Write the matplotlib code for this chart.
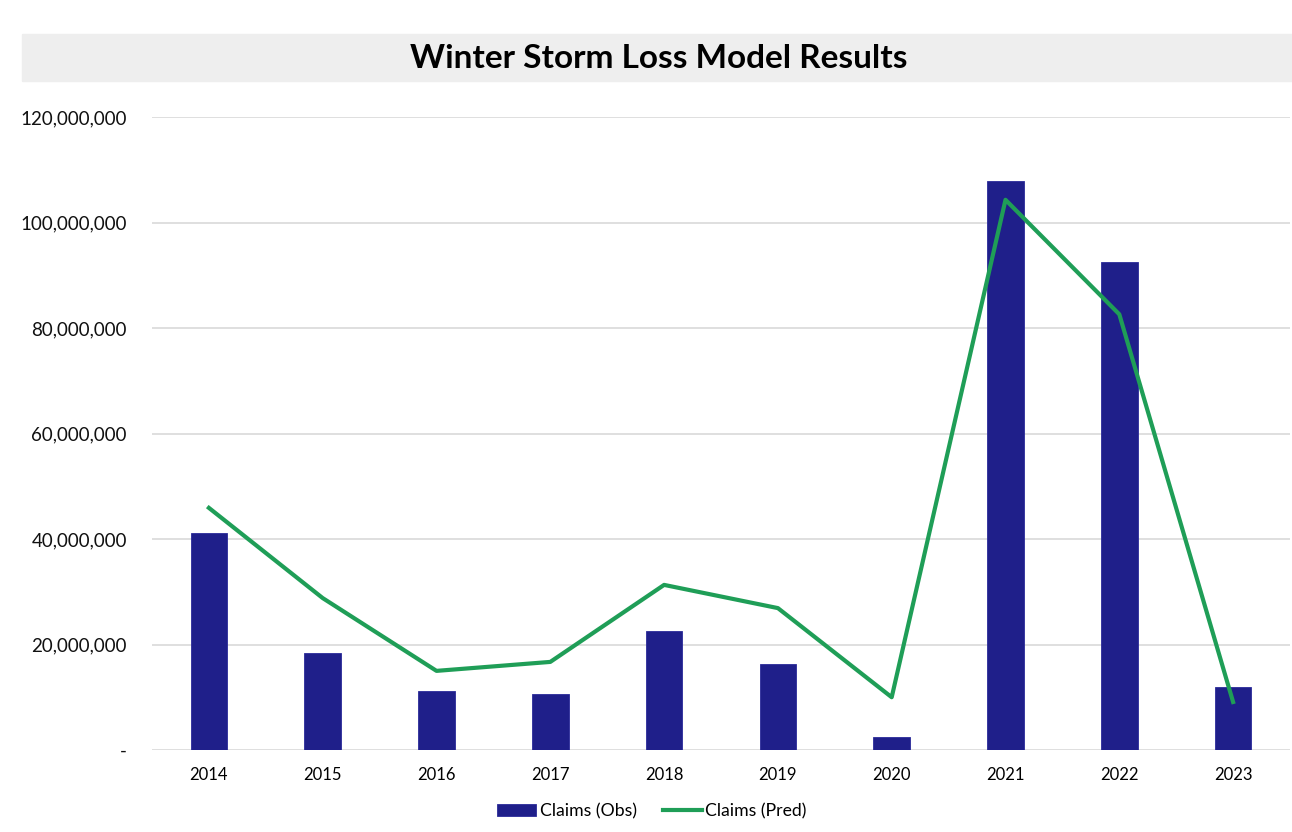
# Winter storm loss model: observed vs predicted claims per year

import matplotlib.pyplot as plt
from matplotlib.ticker import FuncFormatter

years = ['2014', '2015', '2016', '2017', '2018', '2019', '2020', '2021', '2022', '2023']
claims_obs = [41.2e6, 18.4e6, 11.1e6, 10.6e6, 22.6e6, 16.3e6, 2.5e6, 107.8e6, 92.5e6, 11.9e6]
claims_pred = [45.9e6, 28.8e6, 15.0e6, 16.7e6, 31.3e6, 26.9e6, 10.0e6, 104.3e6, 82.6e6, 9.1e6]

BAR_COLOR = '#1f1f8a'
LINE_COLOR = '#1f9e57'

plt.rcParams['font.family'] = ['Lato', 'DejaVu Sans']

fig = plt.figure(figsize=(12.92, 8.32), dpi=100)
ax = fig.add_axes([152 / 1292, 1 - 750 / 832, (1290 - 152) / 1292, (750 - 117) / 832])

x = list(range(len(years)))
bars = ax.bar(x, claims_obs, width=0.32, color=BAR_COLOR, edgecolor='#2a2a9a', linewidth=0.6,
              label='Claims (Obs)', zorder=2)
line, = ax.plot(x, claims_pred, color=LINE_COLOR, linewidth=3, label='Claims (Pred)', zorder=3)

ax.set_xlim(-0.5, len(years) - 0.5)
ax.set_ylim(0, 120e6)
ax.set_yticks([i * 20e6 for i in range(7)])
ax.yaxis.set_major_formatter(FuncFormatter(lambda v, p: '-' if v == 0 else f'{v:,.0f}'))
ax.set_xticks(x)
ax.set_xticklabels(years)

ax.grid(axis='y', color='#d9d9d9', linewidth=1.2, zorder=0)
for s in ax.spines.values():
    s.set_visible(False)
ax.tick_params(axis='both', length=0)
ax.tick_params(axis='y', labelsize=13.5, pad=18)
ax.tick_params(axis='x', labelsize=12, pad=12)
for lbl in ax.get_yticklabels():
    lbl.set_color('#111111')

# grey title band
band = plt.Rectangle((22 / 1292, 1 - 81 / 832), (1292 - 22) / 1292, 47 / 832,
                     transform=fig.transFigure, color='#eeeeee', zorder=0)
fig.patches.append(band)
fig.text(659 / 1292, 1 - 59 / 832, 'Winter Storm Loss Model Results', ha='center', va='center',
         fontsize=24, fontweight='bold', color='#000000')

fig.legend([bars, line], ['Claims (Obs)', 'Claims (Pred)'], loc='center',
           bbox_to_anchor=(652 / 1292, 1 - 811 / 832), ncol=2, frameon=False,
           fontsize=12.7, handlelength=2.2, handletextpad=0.2, columnspacing=1.5)

fig.savefig('out.png', dpi=100)
